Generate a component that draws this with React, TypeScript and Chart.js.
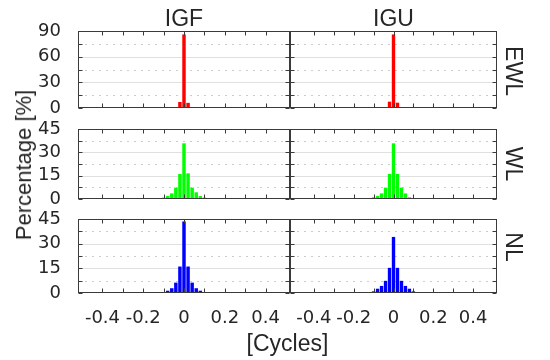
import React, { useEffect, useRef } from "react";
import { Chart, registerables } from "chart.js";

Chart.register(...registerables);

// ---------- data ----------
const binCenters = [-0.2, -0.18, -0.16, -0.14, -0.12, -0.1, -0.08, -0.06, -0.04, -0.02, 0, 0.02, 0.04, 0.06, 0.08, 0.1, 0.12, 0.14, 0.16, 0.18, 0.2];

const ewlIGF = [0, 0, 0, 0, 0, 0, 0, 0, 0, 7, 86, 6, 0.5, 0, 0, 0, 0, 0, 0, 0, 0];
const ewlIGU = [0, 0, 0, 0, 0, 0, 0, 0, 0, 7.4, 86, 6.2, 0, 0, 0, 0, 0, 0, 0, 0, 0];
const wlIGF = [0, 0.1, 0.2, 0.3, 0.5, 0.9, 1.9, 3.6, 7.3, 16.1, 35.8, 16.5, 7.3, 4.3, 1.9, 0.9, 0.6, 0.3, 0.1, 0, 0];
const wlIGU = [0, 0.1, 0.2, 0.4, 0.6, 1.1, 1.9, 3.6, 7.3, 16.1, 35.8, 16.1, 7.3, 3.6, 1.1, 0.6, 0.4, 0.2, 0.1, 0, 0];
const nlIGF = [0, 0, 0, 0.1, 0.3, 0.5, 1.4, 2.9, 6.3, 16.1, 43.5, 16.1, 6.3, 2.9, 1.4, 0.5, 0.3, 0.1, 0, 0, 0];
const nlIGU = [0, 0.2, 0.3, 0.4, 0.6, 1.0, 2.6, 4.3, 7.4, 15.3, 34.1, 15.3, 7.4, 4.3, 2.6, 1.0, 0.6, 0.4, 0.3, 0.2, 0];

const xTickValues = [-0.4, -0.3, -0.2, -0.1, 0, 0.1, 0.2, 0.3, 0.4];
const xTickLabels = ["-0.4", "", "-0.2", "", "0", "", "0.2", "", "0.4"];

const ewlYTicks = [0, 15, 30, 45, 60, 75, 90];
const ewlYLabels = [0, 30, 60, 90];
const smallYTicks = [0, 7.5, 15, 22.5, 30, 37.5, 45];
const smallYLabels = [0, 15, 30, 45];

const columnTitles = ["IGF", "IGU"];
const rowTitles = ["EWL", "WL", "NL"];
const yTitle = "Percentage [%]";
const xTitle = "[Cycles]";

// ---------- layout ----------
const W = 550;
const H = 360;
const colEdges = [
  [78, 290],
  [290, 497],
];
const rowEdges = [
  [31, 108],
  [129, 199],
  [219, 293],
];
const X_MIN = -0.52;
const X_MAX = 0.52;
const FONT = "'Liberation Sans', Arial, Helvetica, sans-serif";
const TICK_FONT = "'DejaVu Sans', 'Liberation Sans', Arial, sans-serif";
const TEXT = "#262626";
const AXIS = "#3a3a3a";
const TICK_SIZE = 18;
const TITLE_SIZE = 23;

type Spec = {
  values: number[];
  color: string;
  yMax: number;
  yTicks: number[];
  yLabels: number[];
  col: number;
  row: number;
};

function makeDecor(spec: Spec) {
  return {
    id: "decor",
    beforeDatasetsDraw(chart: any) {
      const { ctx, chartArea: a, scales } = chart;
      const y = scales.y;
      ctx.save();
      ctx.lineWidth = 1;
      for (const v of spec.yTicks) {
        if (v === 0 || v === spec.yMax) continue;
        const py = Math.round(y.getPixelForValue(v)) + 0.5;
        const major = spec.yLabels.includes(v);
        ctx.strokeStyle = major ? "#e0e0e0" : "#cccccc";
        ctx.setLineDash(major ? [] : [2, 5]);
        ctx.beginPath();
        ctx.moveTo(a.left, py);
        ctx.lineTo(a.right, py);
        ctx.stroke();
      }
      ctx.restore();
    },
    afterDatasetsDraw(chart: any) {
      const { ctx, chartArea: a, scales } = chart;
      const x = scales.x;
      const y = scales.y;
      const L = Math.round(a.left) + 0.5;
      const R = Math.round(a.right) - 0.5;
      const T = Math.round(a.top) + 0.5;
      const B = Math.round(a.bottom) - 0.5;
      ctx.save();
      ctx.strokeStyle = AXIS;
      ctx.lineWidth = 1;
      ctx.setLineDash([]);
      const tl = 4;
      ctx.beginPath();
      for (const v of xTickValues) {
        const px = Math.round(x.getPixelForValue(v)) + 0.5;
        ctx.moveTo(px, B);
        ctx.lineTo(px, B - tl);
        ctx.moveTo(px, T);
        ctx.lineTo(px, T + tl);
      }
      for (const v of spec.yTicks) {
        const py = Math.round(y.getPixelForValue(v)) + 0.5;
        ctx.moveTo(L, py);
        ctx.lineTo(L + tl, py);
        ctx.moveTo(R, py);
        ctx.lineTo(R - tl, py);
      }
      ctx.stroke();
      ctx.strokeRect(L, T, R - L, B - T);
      ctx.restore();
    },
  };
}

function Panel({ spec }: { spec: Spec }) {
  const ref = useRef<HTMLCanvasElement | null>(null);
  useEffect(() => {
    const [left, right] = colEdges[spec.col];
    const [top, bottom] = rowEdges[spec.row];
    const showY = spec.col === 0;
    const showX = spec.row === 2;
    const chart = new Chart(ref.current as HTMLCanvasElement, {
      type: "bar",
      data: {
        datasets: [
          {
            data: binCenters.map((b, i) => ({ x: b, y: spec.values[i] })),
            backgroundColor: spec.color,
            borderWidth: 0,
            barPercentage: 0.85,
            categoryPercentage: 1,
          } as any,
        ],
      },
      plugins: [makeDecor(spec)],
      options: {
        animation: false,
        responsive: false,
        devicePixelRatio: 1,
        events: [],
        layout: { padding: { left: 0, top: top, right: W - right, bottom: 0 } },
        plugins: { legend: { display: false }, tooltip: { enabled: false }, title: { display: false } },
        scales: {
          x: {
            type: "linear",
            min: X_MIN,
            max: X_MAX,
            offset: false,
            grid: { display: false, offset: false },
            border: { display: false },
            afterBuildTicks: (s: any) => {
              s.ticks = xTickValues.map((v) => ({ value: v }));
            },
            afterFit: (s: any) => {
              s.height = H - bottom;
            },
            ticks: {
              display: showX,
              autoSkip: false,
              maxRotation: 0,
              minRotation: 0,
              padding: 7,
              color: TEXT,
              font: { family: TICK_FONT, size: TICK_SIZE },
              callback: (_v: any, i: number) => xTickLabels[i],
            },
          },
          y: {
            type: "linear",
            min: 0,
            max: spec.yMax,
            grid: { display: false },
            border: { display: false },
            afterBuildTicks: (s: any) => {
              s.ticks = spec.yTicks.map((v) => ({ value: v }));
            },
            afterFit: (s: any) => {
              s.width = left;
            },
            ticks: {
              display: showY,
              autoSkip: false,
              padding: 9,
              color: TEXT,
              font: { family: TICK_FONT, size: TICK_SIZE },
              callback: (v: any) => (spec.yLabels.includes(Number(v)) ? String(v) : ""),
            },
          },
        },
      } as any,
    });
    return () => chart.destroy();
  }, []);
  return (
    <canvas
      ref={ref}
      width={W}
      height={H}
      style={{ position: "absolute", left: 0, top: 0, width: W, height: H }}
    />
  );
}

const textBase: React.CSSProperties = {
  position: "absolute",
  fontFamily: FONT,
  color: TEXT,
  lineHeight: 1,
  whiteSpace: "nowrap",
};

function Label({ text, cx, cy, rot = 0, size = TITLE_SIZE }: { text: string; cx: number; cy: number; rot?: number; size?: number }) {
  return (
    <div
      style={{
        ...textBase,
        fontSize: size,
        left: cx,
        top: cy,
        transform: `translate(-50%, -50%) rotate(${rot}deg)`,
      }}
    >
      {text}
    </div>
  );
}

export default function App() {
  const specs: Spec[] = [
    { values: ewlIGF, color: "#ff0000", yMax: 90, yTicks: ewlYTicks, yLabels: ewlYLabels, col: 0, row: 0 },
    { values: ewlIGU, color: "#ff0000", yMax: 90, yTicks: ewlYTicks, yLabels: ewlYLabels, col: 1, row: 0 },
    { values: wlIGF, color: "#00ff00", yMax: 45, yTicks: smallYTicks, yLabels: smallYLabels, col: 0, row: 1 },
    { values: wlIGU, color: "#00ff00", yMax: 45, yTicks: smallYTicks, yLabels: smallYLabels, col: 1, row: 1 },
    { values: nlIGF, color: "#0000ff", yMax: 45, yTicks: smallYTicks, yLabels: smallYLabels, col: 0, row: 2 },
    { values: nlIGU, color: "#0000ff", yMax: 45, yTicks: smallYTicks, yLabels: smallYLabels, col: 1, row: 2 },
  ];
  return (
    <div style={{ position: "fixed", left: 0, top: 0, width: W, height: H, background: "#ffffff", overflow: "hidden" }}>
      {specs.map((s, i) => (
        <Panel key={i} spec={s} />
      ))}
      <Label text={columnTitles[0]} cx={184} cy={18} />
      <Label text={columnTitles[1]} cx={393.5} cy={18} />
      <Label text={rowTitles[0]} cx={513} cy={71} rot={90} />
      <Label text={rowTitles[1]} cx={513} cy={164} rot={90} />
      <Label text={rowTitles[2]} cx={513} cy={247} rot={90} />
      <Label text={yTitle} cx={24} cy={165} rot={-90} size={22} />
      <Label text={xTitle} cx={287.5} cy={343} />
    </div>
  );
}
